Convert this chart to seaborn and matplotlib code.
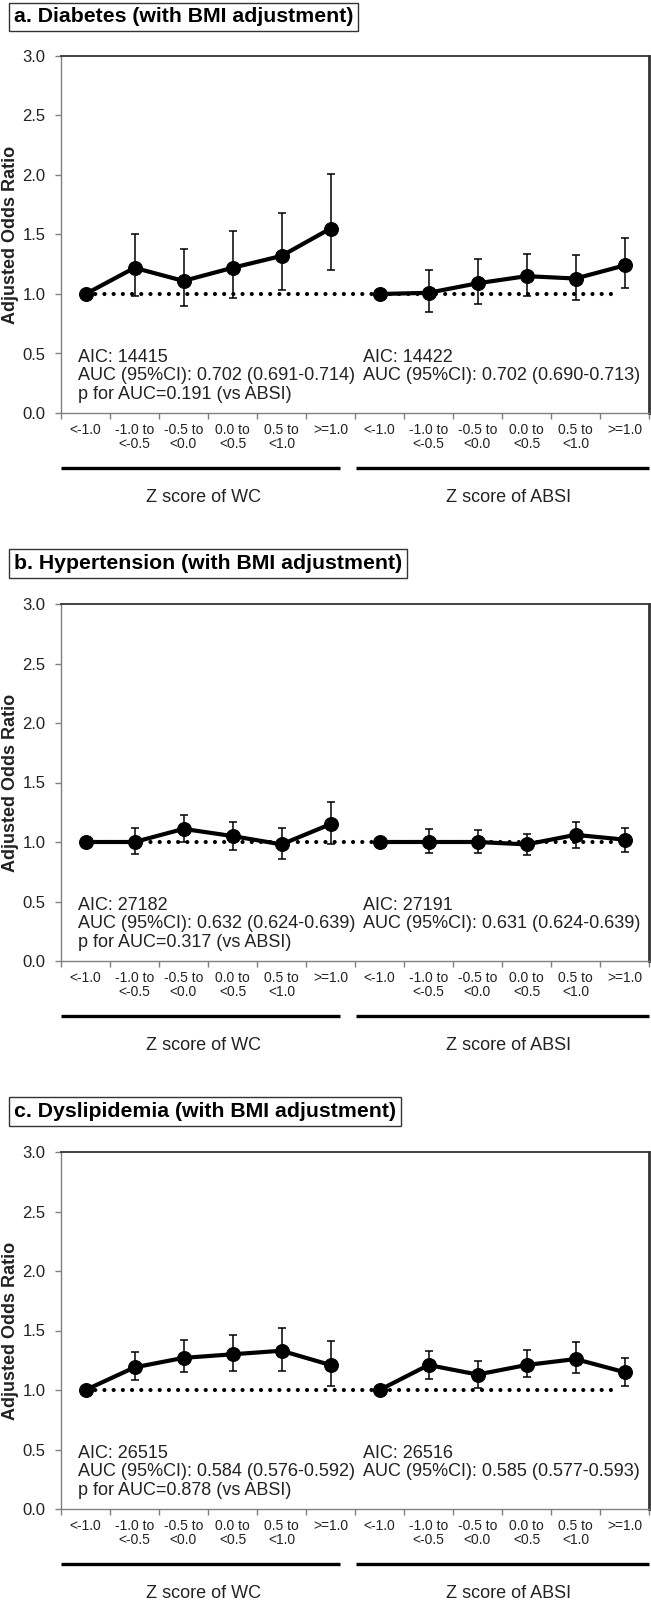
import numpy as np
import pandas as pd
import matplotlib
matplotlib.use("Agg")
import matplotlib.pyplot as plt
import matplotlib.transforms as mtransforms
import seaborn as sns

# ---------------- data ----------------
categories = ["<-1.0", "-1.0 to\n<-0.5", "-0.5 to\n<0.0", "0.0 to\n<0.5", "0.5 to\n<1.0", ">=1.0"]
groups = ["Z score of WC", "Z score of ABSI"]
REF = 1.0
nan = np.nan

panel_titles = ["a. Diabetes (with BMI adjustment)",
                "b. Hypertension (with BMI adjustment)",
                "c. Dyslipidemia (with BMI adjustment)"]

dm_wc_or = [1.00, 1.22, 1.11, 1.22, 1.32, 1.55]
dm_wc_lo = [nan, 0.98, 0.90, 0.97, 1.03, 1.20]
dm_wc_hi = [nan, 1.50, 1.38, 1.53, 1.68, 2.01]
dm_absi_or = [1.00, 1.01, 1.09, 1.15, 1.13, 1.24]
dm_absi_lo = [nan, 0.85, 0.92, 0.98, 0.95, 1.05]
dm_absi_hi = [nan, 1.20, 1.29, 1.34, 1.33, 1.47]

ht_wc_or = [1.00, 1.00, 1.11, 1.05, 0.98, 1.15]
ht_wc_lo = [nan, 0.90, 1.00, 0.93, 0.86, 0.98]
ht_wc_hi = [nan, 1.12, 1.23, 1.17, 1.12, 1.34]
ht_absi_or = [1.00, 1.00, 1.00, 0.98, 1.06, 1.02]
ht_absi_lo = [nan, 0.91, 0.91, 0.89, 0.95, 0.92]
ht_absi_hi = [nan, 1.11, 1.10, 1.07, 1.17, 1.12]

dl_wc_or = [1.00, 1.19, 1.27, 1.30, 1.33, 1.21]
dl_wc_lo = [nan, 1.08, 1.15, 1.16, 1.16, 1.03]
dl_wc_hi = [nan, 1.32, 1.42, 1.46, 1.52, 1.41]
dl_absi_or = [1.00, 1.21, 1.13, 1.21, 1.26, 1.15]
dl_absi_lo = [nan, 1.09, 1.02, 1.11, 1.14, 1.03]
dl_absi_hi = [nan, 1.33, 1.24, 1.34, 1.40, 1.27]

wc_notes = ["AIC: 14415\nAUC (95%CI): 0.702 (0.691-0.714)\np for AUC=0.191 (vs ABSI)",
            "AIC: 27182\nAUC (95%CI): 0.632 (0.624-0.639)\np for AUC=0.317 (vs ABSI)",
            "AIC: 26515\nAUC (95%CI): 0.584 (0.576-0.592)\np for AUC=0.878 (vs ABSI)"]
absi_notes = ["AIC: 14422\nAUC (95%CI): 0.702 (0.690-0.713)",
              "AIC: 27191\nAUC (95%CI): 0.631 (0.624-0.639)",
              "AIC: 26516\nAUC (95%CI): 0.585 (0.577-0.593)"]

y_ticks = [0.0, 0.5, 1.0, 1.5, 2.0, 2.5, 3.0]

panels = [
    (dm_wc_or, dm_wc_lo, dm_wc_hi, dm_absi_or, dm_absi_lo, dm_absi_hi),
    (ht_wc_or, ht_wc_lo, ht_wc_hi, ht_absi_or, ht_absi_lo, ht_absi_hi),
    (dl_wc_or, dl_wc_lo, dl_wc_hi, dl_absi_or, dl_absi_lo, dl_absi_hi),
]

# ---------------- style ----------------
sns.set_theme(style="white")
plt.rcParams["font.family"] = ["Liberation Sans", "DejaVu Sans"]

W, H = 651, 1600
fig = plt.figure(figsize=(W / 100, H / 100), dpi=100)

ax_left_px, ax_right_px = 61, 649
ax_tops_px = [56, 604, 1152]
ax_h_px = 357
title_centers_px = [17, 563.5, 1111.5]

n = len(categories)
for i, (wc_or, wc_lo, wc_hi, ab_or, ab_lo, ab_hi) in enumerate(panels):
    top = ax_tops_px[i]
    ax = fig.add_axes([ax_left_px / W, 1 - (top + ax_h_px) / H,
                       (ax_right_px - ax_left_px) / W, ax_h_px / H])

    x_all = np.arange(2 * n)
    df = pd.DataFrame({
        "x": x_all,
        "or": list(wc_or) + list(ab_or),
        "lo": list(wc_lo) + list(ab_lo),
        "hi": list(wc_hi) + list(ab_hi),
        "group": [groups[0]] * n + [groups[1]] * n,
    })

    # reference dotted line
    ref_df = pd.DataFrame({"x": [x_all[0], x_all[-1] - 0.1], "y": [REF, REF]})
    sns.lineplot(data=ref_df, x="x", y="y", ax=ax, color="black", lw=3.0,
                 linestyle=(0, (0.01, 2.2)), dash_capstyle="round", zorder=2)

    # error bars
    m = df["lo"].notna()
    ax.errorbar(df.loc[m, "x"], df.loc[m, "or"],
                yerr=[df.loc[m, "or"] - df.loc[m, "lo"], df.loc[m, "hi"] - df.loc[m, "or"]],
                fmt="none", ecolor="black", elinewidth=1.1, capsize=2.8, capthick=1.1, zorder=3)

    # lines with markers
    sns.lineplot(data=df, x="x", y="or", hue="group", palette=["black", "black"],
                 marker="o", markersize=10, markeredgecolor="black", lw=3.0,
                 legend=False, ax=ax, zorder=4, sort=False)

    ax.set_xlim(-0.5, 2 * n - 0.5)
    ax.set_ylim(0, 3.0)
    ax.set_yticks(y_ticks)
    ax.set_yticklabels([f"{v:.1f}" for v in y_ticks])
    ax.set_xticks(np.arange(-0.5, 2 * n, 1.0))
    ax.set_xticklabels([])
    ax.set_xticks(x_all, minor=True)
    ax.set_xticklabels(categories * 2, minor=True, fontsize=10, linespacing=1.05, color="#222222")
    ax.tick_params(axis="x", which="major", direction="out", length=4, width=1, color="#808080", bottom=True)
    ax.tick_params(axis="x", which="minor", length=0, pad=7)
    ax.tick_params(axis="y", direction="out", length=4, width=1, color="#808080", left=True,
                   labelsize=12, pad=7, labelcolor="#222222")
    ax.set_xlabel("")
    ax.set_ylabel("")
    ax.grid(False)

    for s in ["left", "bottom"]:
        ax.spines[s].set_color("#808080")
        ax.spines[s].set_linewidth(1.0)
    ax.spines["top"].set_color("#333333")
    ax.spines["top"].set_linewidth(1.3)
    ax.spines["right"].set_color("#333333")
    ax.spines["right"].set_linewidth(2.0)

    # annotations
    ax.text(0.029, 0.178, wc_notes[i], transform=ax.transAxes, ha="left", va="top",
            fontsize=13, color="#222222", linespacing=1.08)
    ax.text(0.514, 0.178, absi_notes[i], transform=ax.transAxes, ha="left", va="top",
            fontsize=13, color="#222222", linespacing=1.08)

    # group bars and labels
    trans = mtransforms.blended_transform_factory(ax.transData, ax.transAxes)
    y_bar = -55 / ax_h_px
    y_lab = -84 / ax_h_px
    ax.plot([-0.5, n - 0.81], [y_bar, y_bar], color="black", lw=2.4, transform=trans,
            clip_on=False, solid_capstyle="butt")
    ax.plot([n - 0.48, 2 * n - 0.5], [y_bar, y_bar], color="black", lw=2.4, transform=trans,
            clip_on=False, solid_capstyle="butt")
    ax.text((n - 1) / 2 - 0.1, y_lab, groups[0], transform=trans, ha="center", va="center",
            fontsize=13, color="#222222")
    ax.text(n + (n - 1) / 2 + 0.14, y_lab, groups[1], transform=trans, ha="center", va="center",
            fontsize=13, color="#222222")

    # y label
    fig.text(10.5 / W, 1 - (top + ax_h_px / 2) / H, "Adjusted Odds Ratio", rotation=90,
             ha="center", va="center", fontsize=13, fontweight="bold", color="#222222")

    # boxed panel title
    fig.text(14 / W, 1 - title_centers_px[i] / H, panel_titles[i], ha="left", va="center",
             fontsize=15.3, fontweight="bold", color="black",
             bbox=dict(boxstyle="square,pad=0.22", facecolor="white", edgecolor="#333333", linewidth=1.0))

fig.savefig("out.png", dpi=100)
